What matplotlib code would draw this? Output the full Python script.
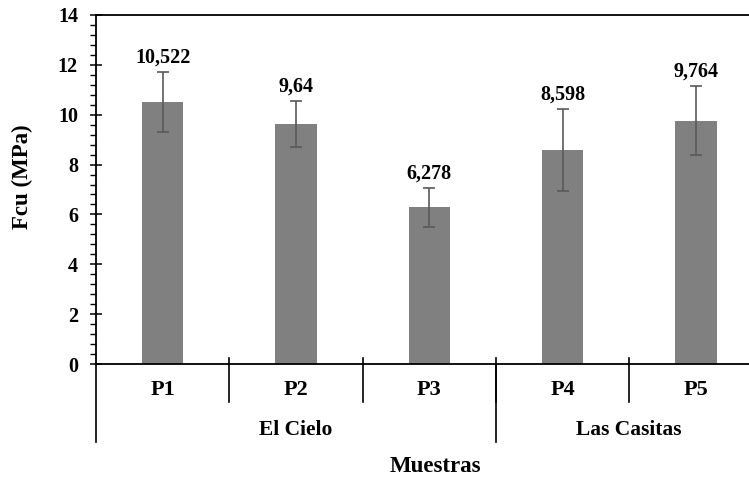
import matplotlib
matplotlib.use("Agg")
import matplotlib.pyplot as plt
from matplotlib.ticker import MultipleLocator
import matplotlib.transforms as mtransforms

# Compressive strength per sample
samples = ["P1", "P2", "P3", "P4", "P5"]
fcu = [10.522, 9.64, 6.278, 8.598, 9.764]
fcu_err = [1.2, 0.93, 0.8, 1.65, 1.4]
value_labels = ["10,522", "9,64", "6,278", "8,598", "9,764"]
groups = ["El Cielo", "Las Casitas"]
group_sizes = [3, 2]

plt.rcParams["font.family"] = ["Liberation Serif", "DejaVu Serif"]
plt.rcParams["font.weight"] = "bold"

W, H = 749, 478
fig = plt.figure(figsize=(W / 100, H / 100), dpi=100)
ax_left, ax_right, ax_top, ax_bottom = 96, 762.5, 15, 364
ax = fig.add_axes([ax_left / W, (H - ax_bottom) / H,
                   (ax_right - ax_left) / W, (ax_bottom - ax_top) / H])

x = list(range(len(samples)))
ax.bar(x, fcu, width=0.31, color="#808080", zorder=2)
ax.errorbar(x, fcu, yerr=fcu_err, fmt="none", ecolor="#595959",
            elinewidth=1.2, capsize=4, capthick=1.2, zorder=3)

for xi, v, e, lab in zip(x, fcu, fcu_err, value_labels):
    ax.annotate(lab, (xi, v + e), xytext=(0, 3), textcoords="offset points",
                ha="center", va="bottom", fontsize=14.5, fontweight="bold")

ax.set_xlim(-0.5, len(samples) - 0.5)
ax.set_ylim(0, 14)
ax.yaxis.set_major_locator(MultipleLocator(2))
ax.yaxis.set_minor_locator(MultipleLocator(0.4))
ax.tick_params(axis="y", which="major", direction="inout", length=8,
               width=1.1, labelsize=14.5, pad=9)
ax.tick_params(axis="y", which="minor", direction="out", length=4, width=1.0)
ax.set_xticks([])
for lbl in ax.get_yticklabels():
    lbl.set_fontweight("bold")

for side in ["left", "top", "bottom"]:
    ax.spines[side].set_linewidth(1.3)
    ax.spines[side].set_color("black")
ax.spines["right"].set_visible(False)

# Multi-level category axis
trans = mtransforms.blended_transform_factory(ax.transData, ax.transAxes)
span = ax_bottom - ax_top
def frac(py):
    return (ax_bottom - py) / span

for xi, s in zip(x, samples):
    ax.text(xi, frac(390), s, transform=trans, ha="center", va="center",
            fontsize=16, fontweight="bold")

# short separators between samples
for b in range(1, len(samples) + 1):
    ax.plot([b - 0.5, b - 0.5], [frac(358), frac(402)], transform=trans,
            color="black", lw=1.2, clip_on=False)

# long separators between groups
start = 0
edges = [-0.5]
for g, n in zip(groups, group_sizes):
    center = start + (n - 1) / 2
    ax.text(center, frac(430), g, transform=trans, ha="center", va="center",
            fontsize=15.5, fontweight="bold")
    start += n
    edges.append(start - 0.5)
for e in edges:
    ax.plot([e, e], [frac(364), frac(442)], transform=trans,
            color="black", lw=1.2, clip_on=False)

fig.text(435 / W, 1 - 467 / H, "Muestras", ha="center", va="center",
         fontsize=16.5, fontweight="bold")
fig.text(22 / W, 1 - 177 / H, "Fcu (MPa)", ha="center", va="center",
         rotation=90, fontsize=16.5, fontweight="bold")

fig.savefig("out.png", dpi=100)
